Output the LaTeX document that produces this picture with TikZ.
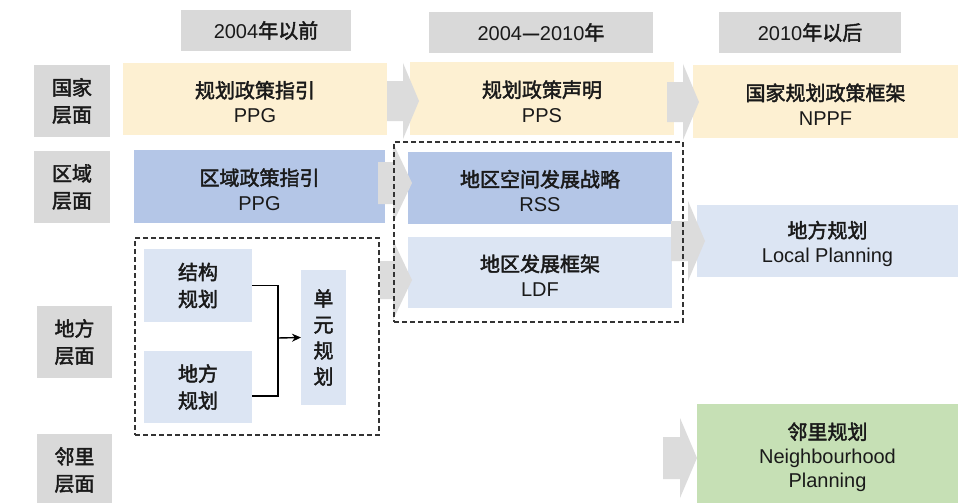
\documentclass[tikz,border=0pt]{standalone}
\usepackage{fontspec}
\setmainfont{Liberation Sans}
\newfontfamily\cjk{Noto Sans CJK SC}[FakeBold=2.2]
\usetikzlibrary{arrows.meta}
\definecolor{lblgray}{HTML}{D9D9D9}
\definecolor{arrgray}{HTML}{DCDCDC}
\definecolor{yel}{HTML}{FDF0D2}
\definecolor{dblue}{HTML}{B4C6E7}
\definecolor{lblue}{HTML}{DCE5F3}
\definecolor{grn}{HTML}{C6E0B5}
\definecolor{txt}{HTML}{1A1A1A}
\definecolor{dashgray}{HTML}{333333}
\newcommand\zh[1]{{\cjk #1}}
\newcommand\zhf{\cjk\fontsize{20}{27}\selectfont}
\newcommand\lat{\fontsize{20}{25}\selectfont}
% box node with its text inside
\newcommand\bx[7]{%
  \pgfmathsetmacro\bxcx{(#2+#4)/2}%
  \pgfmathsetmacro\bxcy{(#3+#5)/2}%
  \pgfmathsetmacro\bxw{#4-#2}%
  \pgfmathsetmacro\bxh{#5-#3}%
  \node[#6,minimum width=\bxw pt,minimum height=\bxh pt] (#1) at (\bxcx,\bxcy) {#7};}
% box node whose two-script text sits slightly low
\newcommand\bxt[7]{%
  \pgfmathsetmacro\bxcx{(#2+#4)/2}%
  \pgfmathsetmacro\bxcy{(#3+#5)/2}%
  \pgfmathsetmacro\bxw{#4-#2}%
  \pgfmathsetmacro\bxh{#5-#3}%
  \node[#6,minimum width=\bxw pt,minimum height=\bxh pt,
        label={[base,font=\lat,yshift=-3pt]center:{#7}}] (#1) at (\bxcx,\bxcy) {};}
\newcommand\barr[6]{%
  \fill[arrgray] (#1,#4-#5) -- (#2,#4-#5) -- (#2,#4-#6) -- (#3,#4) -- (#2,#4+#6) -- (#2,#4+#5) -- (#1,#4+#5) -- cycle;}
\tikzset{
  base/.style={inner sep=0pt,outer sep=0pt,align=center,text=txt},
  hdr/.style={base,fill=lblgray,font=\lat},
  lbl/.style={base,fill=lblgray,font=\zhf},
  bxs/.style={base,font=\lat},
  zbx/.style={base,font=\zhf},
  dashbox/.style={base,draw=dashgray,line width=1.4pt,dash pattern=on 5pt off 3pt},
  conn/.style={draw=black,line width=1.4pt}
}
\begin{document}
\begin{tikzpicture}[x=1pt,y=-1pt]
\clip (0,0) rectangle (958,503);
\fill[white] (0,0) rectangle (958,503);
% headers
\bx{h1}{181}{10}{351}{51}{hdr}{2004\zh{年以前}}
\bx{h2}{429}{12}{653}{53}{hdr}{2004\zh{—}2010\zh{年}}
\bx{h3}{719}{12}{901}{53}{hdr}{2010\zh{年以后}}
% row labels
\bx{l1}{34}{65}{110}{137}{lbl}{国家\\层面}
\bx{l2}{34}{151}{110}{223}{lbl}{区域\\层面}
\bx{l3}{37}{306}{112}{378}{lbl}{地方\\层面}
\bx{l4}{37}{434}{112}{506}{lbl}{邻里\\层面}
% national
\bxt{ppg}{123}{63}{387}{135}{bxs,fill=yel}{\zh{规划政策指引}\\PPG}
\bxt{pps}{410}{62}{674}{135}{bxs,fill=yel}{\zh{规划政策声明}\\PPS}
\bxt{nppf}{693}{65}{958}{138}{bxs,fill=yel}{\zh{国家规划政策框架}\\NPPF}
% regional
\bxt{qy}{134}{150}{385}{223}{bxs,fill=dblue}{\zh{区域政策指引}\\PPG}
\bxt{rss}{408}{152}{672}{224}{bxs,fill=dblue}{\zh{地区空间发展战略}\\RSS}
\bxt{ldf}{408}{237}{672}{308}{bxs,fill=lblue}{\zh{地区发展框架}\\LDF}
\bxt{lp}{697}{205}{958}{277}{bxs,fill=lblue}{\zh{地方规划}\\Local Planning}
% local
\bx{jg}{144}{249}{252}{322}{zbx,fill=lblue}{结构\\规划}
\bx{df}{144}{351}{252}{423}{zbx,fill=lblue}{地方\\规划}
\bx{dy}{301}{270}{346}{405}{zbx,fill=lblue,font=\cjk\fontsize{20}{26}\selectfont}{单\\元\\规\\划}
% neighbourhood
\bx{nb}{697}{404}{958}{510}{bxs,fill=grn,font=\fontsize{20}{24}\selectfont}{\zh{邻里规划}\\Neighbourhood\\Planning}
% block arrows
\barr{387}{403}{419}{101}{20}{38}
\barr{667}{683}{699}{102}{20}{38}
\barr{378}{393}{412}{183}{21}{40}
\barr{380}{393}{412}{280}{19}{40}
\barr{671}{688}{705}{241}{20}{40}
\barr{663}{680}{697}{458}{21}{40}
% dashed groups
\bx{grpl}{135}{238}{379}{435}{dashbox}{}
\bx{grpr}{394}{142}{683}{322}{dashbox}{}
% connectors
\coordinate (bus) at (278,338);
\draw[conn] (jg.east) -| (bus) |- ([yshift=-9pt]df.east);
\draw[conn,-{Stealth[length=9pt,width=8pt]}] (bus) -- (dy.west);
\end{tikzpicture}
\end{document}
